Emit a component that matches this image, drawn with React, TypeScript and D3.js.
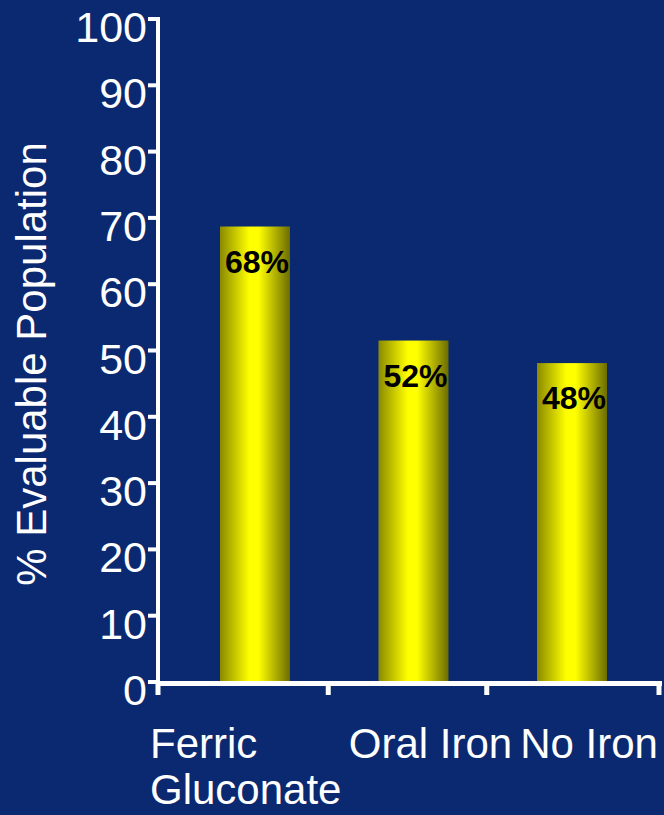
import React from "react";
import * as d3 from "d3";

const categories = ["Ferric Gluconate", "Oral Iron", "No Iron"];
const categoryLines = [["Ferric", "Gluconate"], ["Oral Iron"], ["No Iron"]];
const values = [68.7, 51.5, 48.1];
const valueLabels = ["68%", "52%", "48%"];
const yTicks = [0, 10, 20, 30, 40, 50, 60, 70, 80, 90, 100];
const yTitle = "% Evaluable Population";

const W = 664;
const H = 815;
const BG = "#0b2970";
const FONT = "'Liberation Sans', Arial, Helvetica, sans-serif";

export default function App() {
  const axisX = 158;
  const axisRight = 661;
  const y = d3.scaleLinear().domain([0, 100]).range([682, 19]);
  const x = d3.scalePoint<string>().domain(categories).range([255, 572]);
  const barW = 70;
  const y0 = y(0);

  const centers = categories.map((c) => x(c) as number);
  const xTicks = [axisX, ...d3.pairs(centers).map(([a, b]) => (a + b) / 2 - 6), axisRight - 2];

  return (
    <svg
      width={W}
      height={H}
      style={{ position: "absolute", left: 0, top: 0, display: "block" }}
      fontFamily={FONT}
    >
      <defs>
        <linearGradient id="barGrad" x1="0" x2="1" y1="0" y2="0">
          <stop offset="0%" stopColor="#8a8a00" />
          <stop offset="42%" stopColor="#ffff00" />
          <stop offset="55%" stopColor="#ffff00" />
          <stop offset="100%" stopColor="#6c6c00" />
        </linearGradient>
      </defs>
      <rect x={0} y={0} width={W} height={H} fill={BG} />

      {/* bars */}
      {categories.map((c, i) => (
        <rect
          key={c}
          x={(x(c) as number) - barW / 2}
          y={y(values[i])}
          width={barW}
          height={y0 - y(values[i])}
          fill="url(#barGrad)"
        />
      ))}

      {/* value labels */}
      {categories.map((c, i) => (
        <text
          key={c + "-lbl"}
          x={(x(c) as number) + 2}
          y={y(values[i]) + 46}
          textAnchor="middle"
          fontSize={32}
          fontWeight="bold"
          fill="#000"
        >
          {valueLabels[i]}
        </text>
      ))}

      {/* y axis */}
      <line x1={axisX} x2={axisX} y1={y(100) - 2} y2={y0 + 3} stroke="#fff" strokeWidth={4} />
      {yTicks.map((t) => (
        <g key={t}>
          <line x1={axisX - 10} x2={axisX} y1={y(t)} y2={y(t)} stroke="#fff" strokeWidth={4} />
          <text
            x={147}
            y={y(t) + 8}
            textAnchor="end"
            dominantBaseline="central"
            fontSize={43}
            fill="#fff"
          >
            {t}
          </text>
        </g>
      ))}

      {/* x axis */}
      <line x1={axisX - 2} x2={axisRight + 1} y1={y0 + 1.5} y2={y0 + 1.5} stroke="#fff" strokeWidth={5} />
      {xTicks.map((t, i) => (
        <line key={i} x1={t} x2={t} y1={y0} y2={y0 + 13} stroke="#fff" strokeWidth={5} />
      ))}

      {/* category labels */}
      {categories.map((c, i) => {
        const lines = categoryLines[i];
        const multi = lines.length > 1;
        const cx = x(c) as number;
        return (
          <text
            key={c + "-cat"}
            x={multi ? cx - 105 : cx + 17}
            y={758}
            textAnchor={multi ? "start" : "middle"}
            fontSize={42}
            fill="#fff"
          >
            {lines.map((l, j) => (
              <tspan key={j} x={multi ? cx - 105 : cx + 17} dy={j === 0 ? 0 : 46}>
                {l}
              </tspan>
            ))}
          </text>
        );
      })}

      {/* y title */}
      <text
        transform={`translate(46, ${364}) rotate(-90)`}
        textAnchor="middle"
        fontSize={42}
        fill="#fff"
      >
        {yTitle}
      </text>
    </svg>
  );
}
